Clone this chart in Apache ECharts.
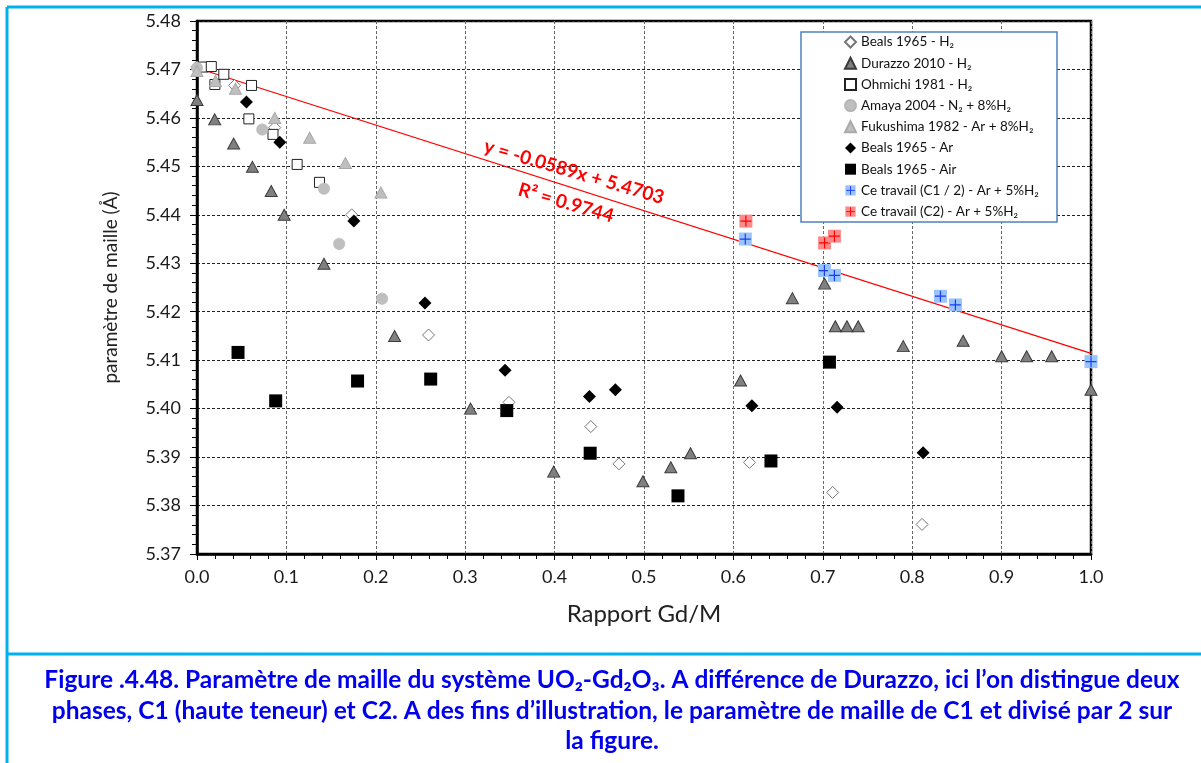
<!DOCTYPE html>
<html>
<head>
<meta charset="utf-8">
<script src="https://cdn.jsdelivr.net/npm/echarts@6/dist/echarts.min.js"></script>
<style>
html,body{margin:0;padding:0;background:#fff;}
#chart{width:1201px;height:763px;}
</style>
</head>
<body>
<div id="chart"></div>
<script>
// ---- data ----
const seriesNames = [
  'Beals 1965 - H₂',
  'Durazzo 2010 - H₂',
  'Ohmichi 1981 - H₂',
  'Amaya 2004 - N₂ + 8%H₂',
  'Fukushima 1982 - Ar + 8%H₂',
  'Beals 1965 - Ar',
  'Beals 1965 - Air',
  'Ce travail (C1 / 2) - Ar + 5%H₂',
  'Ce travail (C2) - Ar + 5%H₂'
];
const bealsH2 = [[0.0,5.4705],[0.042,5.4667],[0.087,5.458],[0.173,5.440],[0.259,5.4152],[0.349,5.4013],[0.4405,5.3963],[0.472,5.3886],[0.618,5.3889],[0.711,5.3827],[0.811,5.3761]];
const durazzo = [[0.0,5.4637],[0.0198,5.4597],[0.041,5.4547],[0.062,5.4499],[0.083,5.4449],[0.0975,5.440],[0.142,5.4299],[0.221,5.415],[0.306,5.400],[0.399,5.387],[0.4988,5.385],[0.530,5.3879],[0.552,5.3908],[0.608,5.4058],[0.666,5.4228],[0.702,5.4258],[0.714,5.417],[0.727,5.417],[0.7396,5.417],[0.790,5.4129],[0.857,5.414],[0.900,5.4108],[0.928,5.4108],[0.956,5.4108],[1.0,5.4039]];
const ohmichi = [[0.007,5.4705],[0.016,5.4706],[0.020,5.4669],[0.030,5.469],[0.061,5.4667],[0.058,5.4598],[0.085,5.4566],[0.112,5.4504],[0.137,5.4467]];
const amaya = [[0.0,5.4703],[0.073,5.4576],[0.142,5.4454],[0.159,5.434],[0.207,5.4227]];
const fukushima = [[0.0,5.4697],[0.0206,5.4676],[0.043,5.466],[0.087,5.460],[0.126,5.4559],[0.166,5.4507],[0.2057,5.4446]];
const bealsAr = [[0.0553,5.4633],[0.0926,5.455],[0.1755,5.4387],[0.255,5.4218],[0.3446,5.4079],[0.439,5.4025],[0.468,5.4039],[0.6207,5.4006],[0.716,5.4003],[0.8122,5.3909]];
const bealsAir = [[0.0459,5.4116],[0.088,5.4016],[0.1796,5.4057],[0.2614,5.4061],[0.3465,5.3996],[0.4398,5.3908],[0.538,5.382],[0.642,5.3892],[0.7074,5.4096]];
const ceC1 = [[0.6133,5.435],[0.7018,5.4285],[0.713,5.4275],[0.8316,5.4232],[0.8483,5.4214],[1.0,5.4097]];
const ceC2 = [[0.614,5.4387],[0.702,5.4342],[0.713,5.4356]];
const trendLine = [[0.0,5.4703],[1.0,5.4114]];
const trendText = ['y = -0.0589x + 5.4703', 'R² = 0.9744'];
const xTicks = [0,0.1,0.2,0.3,0.4,0.5,0.6,0.7,0.8,0.9,1.0];
const yTicks = [5.37,5.38,5.39,5.40,5.41,5.42,5.43,5.44,5.45,5.46,5.47,5.48];
const captionLines = [
  'Figure .4.48. Paramètre de maille du système UO₂-Gd₂O₃. A différence de Durazzo, ici l’on distingue deux',
  'phases, C1 (haute teneur) et C2. A des fins d’illustration, le paramètre de maille de C1 et divisé par 2 sur',
  'la figure.'
];

function plusIcon(fill, stroke){
  const svg = '<svg xmlns="http://www.w3.org/2000/svg" width="28" height="28">' +
    '<rect x="1" y="1" width="26" height="26" fill="' + fill + '"/>' +
    '<path d="M14 3V25M3 14H25" stroke="' + stroke + '" stroke-width="2.4"/></svg>';
  return 'image://data:image/svg+xml;charset=utf-8,' + encodeURIComponent(svg);
}

const chart = echarts.init(document.getElementById('chart'));
const FONT = 'Lato, "Open Sans", sans-serif';

function sc(name, data, symbol, size, itemStyle, z){
  itemStyle.opacity = 1;
  return {type:'scatter', name:name, data:data, symbol:symbol, symbolSize:size,
    itemStyle:itemStyle, z:z, emphasis:{disabled:true}, animation:false};
}

const option = {
  backgroundColor:'#ffffff',
  animation:false,
  grid:{left:197, right:110, top:21, bottom:209, show:true, borderColor:'#000', borderWidth:2.5, backgroundColor:'transparent'},
  xAxis:{
    type:'value', min:xTicks[0], max:xTicks[xTicks.length-1], interval:0.1,
    name:'Rapport Gd/M', nameLocation:'middle', nameGap:48,
    nameTextStyle:{fontFamily:FONT, fontSize:24, color:'#222'},
    axisLine:{show:true, onZero:false, lineStyle:{color:'#000', width:2.5}},
    axisTick:{show:true, length:6, lineStyle:{color:'#000', width:1}},
    minorTick:{show:true, splitNumber:5, length:5, lineStyle:{color:'#000', width:1}},
    axisLabel:{fontFamily:FONT, fontSize:18, color:'#1a1a1a', margin:14, formatter:v=>v.toFixed(1)},
    splitLine:{show:true, lineStyle:{color:'#666', type:[3,2], width:1}}
  },
  yAxis:{
    type:'value', min:yTicks[0], max:yTicks[yTicks.length-1], interval:0.01,
    name:'paramètre de maille (Å)', nameLocation:'middle', nameGap:77, nameRotate:90,
    nameTextStyle:{fontFamily:FONT, fontSize:19, color:'#222'},
    axisLine:{show:true, onZero:false, lineStyle:{color:'#000', width:2.5}},
    axisTick:{show:true, length:7, lineStyle:{color:'#000', width:1}},
    minorTick:{show:true, splitNumber:5, length:5, lineStyle:{color:'#000', width:1}},
    axisLabel:{fontFamily:FONT, fontSize:18, color:'#1a1a1a', margin:16, formatter:v=>v.toFixed(2)},
    splitLine:{show:true, lineStyle:{color:'#222', type:[3,2], width:1}}
  },
  legend:{
    data:seriesNames, orient:'vertical', left:844, top:35, padding:0,
    itemWidth:11, itemHeight:11, itemGap:7.2, z:10,
    textStyle:{fontFamily:FONT, fontSize:13.5, color:'#111', lineHeight:11},
    selectedMode:false
  },
  series:[
    {type:'line', name:'trend', data:trendLine, showSymbol:false, symbol:'none',
     lineStyle:{color:'#ff0000', width:1.3}, z:1, animation:false, silent:true},
    sc(seriesNames[0], bealsH2, 'diamond', 12, {color:'#fff', borderColor:'#777', borderWidth:1}, 2),
    sc(seriesNames[1], durazzo, 'triangle', [12,11], {color:'#808080', borderColor:'#3a3a3a', borderWidth:1}, 2),
    sc(seriesNames[2], ohmichi, 'rect', 10, {color:'#fff', borderColor:'#222', borderWidth:1}, 2),
    sc(seriesNames[3], amaya, 'circle', 11.5, {color:'#bfbfbf', borderColor:'#b5b5b5', borderWidth:0.5}, 2),
    sc(seriesNames[4], fukushima, 'triangle', [12,11], {color:'#bfbfbf', borderColor:'#a9a9a9', borderWidth:1}, 2),
    sc(seriesNames[5], bealsAr, 'diamond', 13, {color:'#000'}, 2),
    sc(seriesNames[6], bealsAir, 'rect', 13, {color:'#000'}, 2),
    sc(seriesNames[7], ceC1, plusIcon('#99c3fb', '#1a3cf5'), 14, {}, 3),
    sc(seriesNames[8], ceC2, plusIcon('#fb8a8a', '#ff0000'), 14, {}, 3)
  ],
  graphic:[
    {type:'rect', z:5, shape:{x:801, y:32, width:256, height:190},
     style:{fill:'#fff', stroke:'#4f81bd', lineWidth:1.5}},
    {type:'text', z:6, x:574, y:172, rotation:-0.285,
     style:{text:trendText[0], align:'center', verticalAlign:'middle', font:'bold 19px ' + FONT, fill:'#ff0000'}},
    {type:'text', z:6, x:566, y:203, rotation:-0.285,
     style:{text:trendText[1], align:'center', verticalAlign:'middle', font:'bold 19px ' + FONT, fill:'#ff0000'}},
    // outer figure frame
    {type:'line', z:0, shape:{x1:7, y1:7, x2:1201, y2:7}, style:{stroke:'#00b0f0', lineWidth:3}},
    {type:'line', z:0, shape:{x1:7, y1:7, x2:7, y2:763}, style:{stroke:'#00b0f0', lineWidth:3}},
    {type:'line', z:0, shape:{x1:7, y1:654, x2:1201, y2:654}, style:{stroke:'#00b0f0', lineWidth:3}},
    {type:'text', z:6, x:612, y:680,
     style:{text:captionLines[0], align:'center', verticalAlign:'middle', font:'bold 24.5px ' + FONT, fill:'#0000ee'}},
    {type:'text', z:6, x:612, y:711,
     style:{text:captionLines[1], align:'center', verticalAlign:'middle', font:'bold 24.5px ' + FONT, fill:'#0000ee'}},
    {type:'text', z:6, x:612, y:741,
     style:{text:captionLines[2], align:'center', verticalAlign:'middle', font:'bold 24.5px ' + FONT, fill:'#0000ee'}}
  ]
};
chart.setOption(option);
</script>
</body>
</html>
